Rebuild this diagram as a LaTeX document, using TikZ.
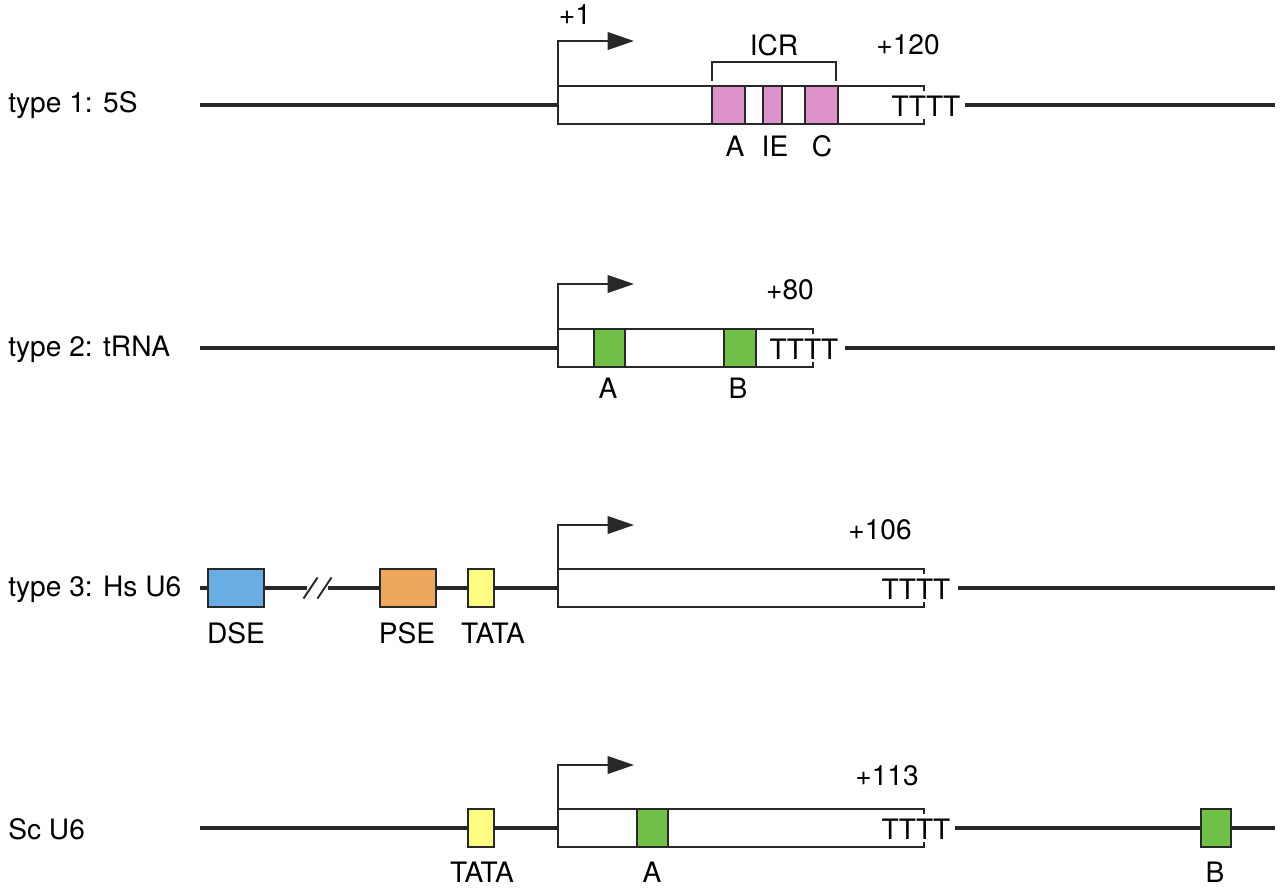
\documentclass[tikz,border=0pt]{standalone}
\usepackage{fontspec}
\setmainfont{TeX Gyre Heros}
\usetikzlibrary{arrows.meta}
\definecolor{pinkbox}{RGB}{222,146,204}
\definecolor{greenbox}{RGB}{112,192,72}
\definecolor{bluebox}{RGB}{106,172,228}
\definecolor{orangebox}{RGB}{238,168,92}
\definecolor{yellowbox}{RGB}{252,252,128}
\definecolor{ink}{RGB}{40,40,40}
\tikzset{
  dna/.style={line width=2.8pt, ink},
  gene/.style={line width=1.1pt, ink},
  elem/.style={draw=ink, line width=1.1pt, inner sep=0pt, minimum height=38*0.567pt},
  startarrow/.style={line width=1.1pt, ink, -{Triangle[length=15pt,width=10pt]}},
  lbl/.style={font=\fontsize{16}{19}\selectfont, text=black, inner sep=0pt},
}
\begin{document}
\begin{tikzpicture}[x=0.02cm,y=-0.02cm]
\useasboundingbox (0,0) rectangle (1280,887);

% ---------- Row 1: type 1 5S ----------
\node[lbl, anchor=west] (r1) at (8,105) {type 1: 5S};
\coordinate (r1a) at (200,105);
\coordinate (r1b) at (558,105);
\coordinate (r1c) at (965,105);
\coordinate (r1d) at (1275,105);
\draw[dna] (r1a) -- (r1b);
\draw[dna] (r1c) -- (r1d);
\coordinate (g1tl) at (558,86);
\coordinate (g1bl) at (558,124);
\coordinate (g1tr) at (924,86);
\coordinate (g1br) at (924,124);
\node[elem, fill=pinkbox, minimum width=33*0.567pt] (g1A) at (728.5,105) {};
\node[elem, fill=pinkbox, minimum width=19*0.567pt] (g1IE) at (772.5,105) {};
\node[elem, fill=pinkbox, minimum width=33*0.567pt] (g1C) at (821.5,105) {};
\draw[gene] ([yshift=-3pt]g1tr) -- (g1tr) -- (g1tl) -- (g1bl) -- (g1br) -- ([yshift=3pt]g1br);
\coordinate (t1) at (558,41);
\coordinate (t1e) at (634,41);
\draw[startarrow] (g1tl) -- (t1) -- (t1e);
\node[lbl] (p1) at (575,15) {+1};
\node[lbl] (tt1) at (926,106) {TTTT};
\node[lbl] (e1) at (908,45) {+120};
\coordinate (icrL) at (712,81);
\coordinate (icrR) at (836,81);
\draw[gene] (icrL) -- ++(0,-19) -| (icrR);
\node[lbl] (icr) at (774,45) {ICR};
\node[lbl] (lA1) at (735,146) {A};
\node[lbl] (lIE) at (775,146) {IE};
\node[lbl] (lC) at (822,146) {C};

% ---------- Row 2: type 2 tRNA ----------
\node[lbl, anchor=west] (r2) at (8,349) {type 2: tRNA};
\coordinate (r2a) at (200,348);
\coordinate (r2b) at (558,348);
\coordinate (r2c) at (845,348);
\coordinate (r2d) at (1275,348);
\draw[dna] (r2a) -- (r2b);
\draw[dna] (r2c) -- (r2d);
\coordinate (g2tl) at (558,329);
\coordinate (g2bl) at (558,367);
\coordinate (g2tr) at (813,329);
\coordinate (g2br) at (813,367);
\node[elem, fill=greenbox, minimum width=31*0.567pt] (g2A) at (609.5,348) {};
\node[elem, fill=greenbox, minimum width=32*0.567pt] (g2B) at (740,348) {};
\draw[gene] ([yshift=-3pt]g2tr) -- (g2tr) -- (g2tl) -- (g2bl) -- (g2br) -- ([yshift=3pt]g2br);
\coordinate (t2) at (558,284);
\coordinate (t2e) at (634,284);
\draw[startarrow] (g2tl) -- (t2) -- (t2e);
\node[lbl] (tt2) at (804,349) {TTTT};
\node[lbl] (e2) at (790,290) {+80};
\node[lbl] (lA2) at (608,388) {A};
\node[lbl] (lB2) at (738,388) {B};

% ---------- Row 3: type 3 Hs U6 ----------
\node[lbl, anchor=west] (r3) at (8,589) {type 3: Hs U6};
\coordinate (r3a) at (200,588);
\coordinate (r3s1) at (307,588);
\coordinate (r3s2) at (328,588);
\coordinate (r3b) at (558,588);
\coordinate (r3c) at (958,588);
\coordinate (r3d) at (1275,588);
\draw[dna] (r3a) -- (r3s1);
\draw[dna] (r3s2) -- (r3b);
\draw[dna] (r3c) -- (r3d);
\draw[gene] ([xshift=-2pt,yshift=-6pt]r3s1) -- ([xshift=6pt,yshift=6pt]r3s1);
\draw[gene] ([xshift=-6pt,yshift=-6pt]r3s2) -- ([xshift=2pt,yshift=6pt]r3s2);
\node[elem, fill=bluebox, minimum width=57*0.567pt] (dse) at (236,588) {};
\node[elem, fill=orangebox, minimum width=56*0.567pt] (pse) at (408,588) {};
\node[elem, fill=yellowbox, minimum width=26*0.567pt] (tata3) at (481,588) {};
\coordinate (g3tl) at (558,569);
\coordinate (g3bl) at (558,607);
\coordinate (g3tr) at (924,569);
\coordinate (g3br) at (924,607);
\draw[gene] ([yshift=-3pt]g3tr) -- (g3tr) -- (g3tl) -- (g3bl) -- (g3br) -- ([yshift=3pt]g3br);
\coordinate (t3) at (558,525);
\coordinate (t3e) at (634,525);
\draw[startarrow] (g3tl) -- (t3) -- (t3e);
\node[lbl] (tt3) at (916,589) {TTTT};
\node[lbl] (e3) at (880,530) {+106};
\node[lbl] (lDSE) at (236,633) {DSE};
\node[lbl] (lPSE) at (407,633) {PSE};
\node[lbl] (lTATA3) at (493,633) {TATA};

% ---------- Row 4: Sc U6 ----------
\node[lbl, anchor=west] (r4) at (8,829) {Sc U6};
\coordinate (r4a) at (200,828);
\coordinate (r4b) at (558,828);
\coordinate (r4c) at (955,828);
\coordinate (r4d) at (1275,828);
\draw[dna] (r4a) -- (r4b);
\draw[dna] (r4c) -- (r4d);
\node[elem, fill=yellowbox, minimum width=26*0.567pt] (tata4) at (481,828) {};
\node[elem, fill=greenbox, minimum width=31*0.567pt] (g4B) at (1216,828) {};
\coordinate (g4tl) at (558,809);
\coordinate (g4bl) at (558,847);
\coordinate (g4tr) at (924,809);
\coordinate (g4br) at (924,847);
\node[elem, fill=greenbox, minimum width=31*0.567pt] (g4A) at (652.5,828) {};
\draw[gene] ([yshift=-3pt]g4tr) -- (g4tr) -- (g4tl) -- (g4bl) -- (g4br) -- ([yshift=3pt]g4br);
\coordinate (t4) at (558,765);
\coordinate (t4e) at (634,765);
\draw[startarrow] (g4tl) -- (t4) -- (t4e);
\node[lbl] (tt4) at (916,829) {TTTT};
\node[lbl] (e4) at (887,776) {+113};
\node[lbl] (lTATA4) at (482,872) {TATA};
\node[lbl] (lA4) at (652,872) {A};
\node[lbl] (lB4) at (1215,872) {B};
\end{tikzpicture}
\end{document}
